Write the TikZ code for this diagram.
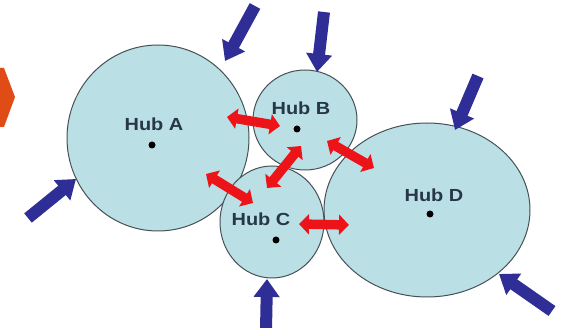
\documentclass[tikz,border=0pt]{standalone}
\usepackage{fontspec}
\setmainfont{Liberation Sans}
\usetikzlibrary{shapes.geometric,arrows.meta}
\definecolor{hubfill}{RGB}{186,224,230}
\definecolor{hubline}{RGB}{70,80,85}
\definecolor{inblue}{RGB}{46,46,150}
\definecolor{linkred}{RGB}{236,20,24}
\definecolor{hubtext}{RGB}{40,55,70}
\definecolor{orangemark}{RGB}{224,76,22}
\tikzset{
  hub/.style={ellipse, draw=hubline, line width=1pt, fill=hubfill, inner sep=0pt},
  hublabel/.style={font=\bfseries\fontsize{17.5}{17.5}\selectfont, text=hubtext, xscale=1.14, inner sep=0pt},
  hubdot/.style={circle, fill=black, inner sep=0pt, minimum size=7pt},
  inflow/.style={draw=inblue, line width=12pt, -{Triangle[width=25pt,length=18pt]}},
  link/.style={draw=linkred, line width=9.5pt, {Triangle[width=20pt,length=10pt]}-{Triangle[width=20pt,length=10pt]}}
}
\begin{document}
\begin{tikzpicture}[x=1pt,y=-1pt]
\useasboundingbox (0,0) rectangle (562,328);
% orange mark at the left edge
\fill[orangemark] (0,68) -- (4,68) -- (15,97) -- (4,127) -- (0,127) -- cycle;
% hubs
\node[hub, minimum width=182pt, minimum height=186pt] (hubA) at (158,138) {};
\node[hub, minimum width=104pt, minimum height=100pt] (hubB) at (305,120) {};
\node[hub, minimum width=104pt, minimum height=112pt] (hubC) at (272,222) {};
\node[hub, minimum width=206pt, minimum height=174pt] (hubD) at (427,210) {};
% labels and dots
\node[hublabel] (labA) at (154,124) {Hub A};
\node[hublabel] (labB) at (301,108) {Hub B};
\node[hublabel] (labC) at (261,219) {Hub C};
\node[hublabel] (labD) at (434,195) {Hub D};
\node[hubdot] (dotA) at (152,145) {};
\node[hubdot] (dotB) at (297,129) {};
\node[hubdot] (dotC) at (276,240) {};
\node[hubdot] (dotD) at (430,214) {};
% inflow arrows (tails and tips)
\coordinate (inA1s) at (255,6);   \coordinate (inA1e) at (225,61);
\coordinate (inBs)  at (324,12);  \coordinate (inBe)  at (317,72);
\coordinate (inDs)  at (478,76);  \coordinate (inDe)  at (455,130);
\coordinate (inA2s) at (28,218);  \coordinate (inA2e) at (76,179);
\coordinate (inCs)  at (266,330); \coordinate (inCe)  at (267,279);
\coordinate (inD2s) at (552,311); \coordinate (inD2e) at (499,274);
\draw[inflow] (inA1s) -- (inA1e);
\draw[inflow] (inBs) -- (inBe);
\draw[inflow] (inDs) -- (inDe);
\draw[inflow] (inA2s) -- (inA2e);
\draw[inflow] (inCs) -- (inCe);
\draw[inflow] (inD2s) -- (inD2e);
% links between hubs
\coordinate (lAB1) at (227,117); \coordinate (lAB2) at (280,126);
\coordinate (lBC1) at (267,188); \coordinate (lBC2) at (301,146);
\coordinate (lBD1) at (327,141); \coordinate (lBD2) at (374,168);
\coordinate (lAC1) at (206,174); \coordinate (lAC2) at (253,203);
\coordinate (lCD1) at (299,224); \coordinate (lCD2) at (349,225);
\draw[link] (lAB1) -- (lAB2);
\draw[link] (lBC1) -- (lBC2);
\draw[link] (lBD1) -- (lBD2);
\draw[link] (lAC1) -- (lAC2);
\draw[link] (lCD1) -- (lCD2);
\end{tikzpicture}
\end{document}
